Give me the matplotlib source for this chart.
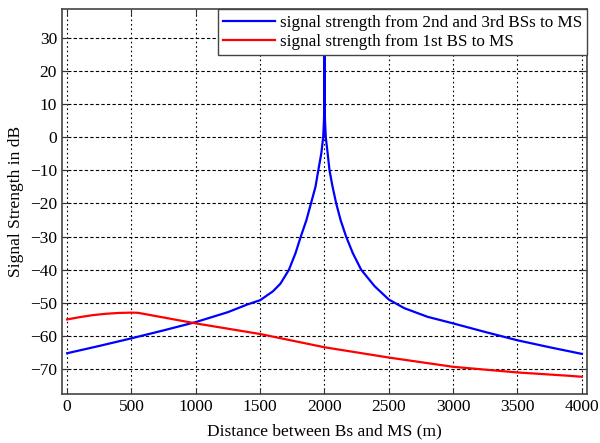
import matplotlib.pyplot as plt
import numpy as np

plt.rcParams['font.family'] = ['Liberation Serif', 'DejaVu Serif']

# blue: signal from 2nd and 3rd BSs
blue_x = [0, 250, 500, 750, 1000, 1250, 1400, 1500, 1600, 1658, 1724, 1775, 1816, 1860,
          1895, 1930, 1952, 1975, 1990, 1996, 1998, 2000, 2002, 2004, 2010, 2025, 2039,
          2063, 2091, 2125, 2168, 2220, 2285, 2390, 2500, 2620, 2800, 3000, 3250, 3500, 3750, 4000]
blue_y = [-65.2, -63.0, -60.7, -58.3, -55.8, -52.8, -50.5, -49.2, -46.5, -44.2, -40.0, -35.0, -30.0, -25.0,
          -20.0, -15.0, -10.0, -5.0, 0.0, 5.0, 8.0, 45.0, 8.0, 5.0, 0.0, -5.0, -10.0,
          -15.0, -20.0, -25.0, -30.0, -35.0, -40.0, -45.0, -49.0, -51.6, -54.2, -56.2, -58.8, -61.3, -63.4, -65.4]

# red: signal from 1st BS
red_x = [0, 100, 200, 300, 400, 500, 550, 1000, 1500, 2000, 2500, 3000, 3500, 3900, 4000]
red_y = [-55.0, -54.3, -53.7, -53.3, -53.05, -52.95, -53.0, -56.2, -59.4, -63.4, -66.5,
         -69.3, -71.0, -72.0, -72.3]

xticks = [0, 500, 1000, 1500, 2000, 2500, 3000, 3500, 4000]
yticks = [-70, -60, -50, -40, -30, -20, -10, 0, 10, 20, 30]

fig = plt.figure(figsize=(6, 4.43), dpi=100)
ax = fig.add_axes([0.1033, 0.1106, 0.8750, 0.8680])

ax.plot(blue_x, blue_y, color='#0000ff', linewidth=1.6,
        label='signal strength from 2nd and 3rd BSs to MS')
ax.plot(red_x, red_y, color='#ff0000', linewidth=1.6,
        label='signal strength from 1st BS to MS')

ax.set_xlim(-40, 4040)
ax.set_ylim(-77.5, 38.5)
ax.set_xticks(xticks)
ax.set_yticks(yticks)

for x in xticks:
    ax.axvline(x, color='black', linewidth=0.8, linestyle=(0, (1.5, 2.5)), zorder=0)
for y in yticks:
    ax.axhline(y, color='black', linewidth=0.8, linestyle=(0, (3, 2)), zorder=0)

ax.tick_params(direction='in', top=True, right=True, labelsize=12.5, length=4, color='#333333')
for s in ax.spines.values():
    s.set_color('#444444')
    s.set_linewidth(1.2)

ax.set_xlabel('Distance between Bs and MS (m)', fontsize=12.5, labelpad=6)
ax.set_ylabel('Signal Strength in dB', fontsize=12.5, labelpad=4)

leg = ax.legend(loc='upper right', borderaxespad=0, fancybox=False, framealpha=1,
                edgecolor='#444444', fontsize=12.3, handlelength=3.0, handletextpad=0.3,
                labelspacing=0.2, borderpad=0.3)
leg.get_frame().set_linewidth(1.0)

fig.savefig('out.png', dpi=100)
